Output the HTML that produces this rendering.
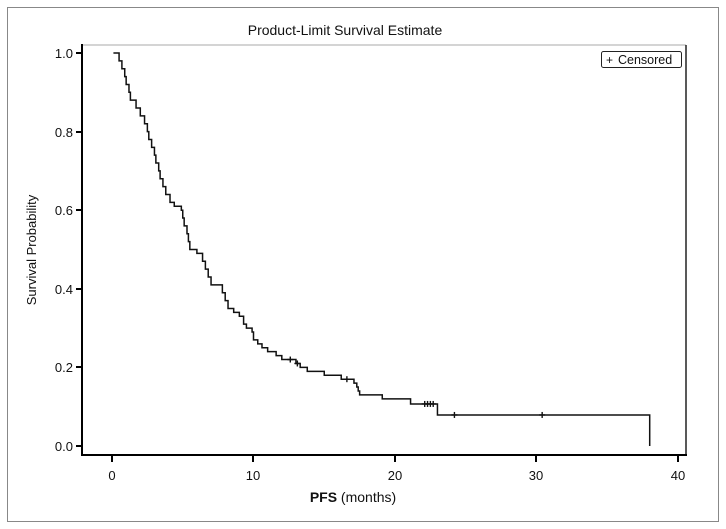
<!DOCTYPE html>
<html><head><meta charset="utf-8"><style>
html,body{margin:0;padding:0;background:#fff;}
svg{display:block;font-family:"Liberation Sans",sans-serif;}
</style></head><body>
<svg width="726" height="529" viewBox="0 0 726 529" xmlns="http://www.w3.org/2000/svg">
<rect x="7.5" y="7.5" width="711" height="514" fill="#fff" stroke="#888" stroke-width="1"/>
<text x="345" y="35" font-size="14" text-anchor="middle" fill="#111">Product-Limit Survival Estimate</text>
<line x1="82" y1="45" x2="686" y2="45" stroke="#aaa" stroke-width="1"/>
<line x1="686" y1="45" x2="686" y2="455" stroke="#222" stroke-width="1.5"/>
<line x1="82" y1="44" x2="82" y2="456" stroke="#000" stroke-width="2"/>
<line x1="81" y1="455" x2="687" y2="455" stroke="#000" stroke-width="2"/>
<g font-size="13" fill="#111" text-anchor="end">
<text x="73" y="58">1.0</text><text x="73" y="137">0.8</text><text x="73" y="215">0.6</text><text x="73" y="294">0.4</text><text x="73" y="372">0.2</text><text x="73" y="451">0.0</text>
</g>
<g stroke="#000" stroke-width="2">
<line x1="76" y1="53" x2="82" y2="53"/><line x1="76" y1="132" x2="82" y2="132"/><line x1="76" y1="210" x2="82" y2="210"/><line x1="76" y1="289" x2="82" y2="289"/><line x1="76" y1="367" x2="82" y2="367"/><line x1="76" y1="446" x2="82" y2="446"/>
<line x1="112" y1="455" x2="112" y2="462"/><line x1="253" y1="455" x2="253" y2="462"/><line x1="395" y1="455" x2="395" y2="462"/><line x1="536" y1="455" x2="536" y2="462"/><line x1="678" y1="455" x2="678" y2="462"/>
</g>
<g font-size="13" fill="#111" text-anchor="middle">
<text x="112" y="480">0</text><text x="253" y="480">10</text><text x="395" y="480">20</text><text x="536" y="480">30</text><text x="678" y="480">40</text>
</g>
<text x="353" y="502" font-size="14" text-anchor="middle" fill="#111"><tspan font-weight="bold">PFS</tspan> (months)</text>
<text transform="translate(36,250) rotate(-90)" font-size="13" text-anchor="middle" fill="#111">Survival Probability</text>
<rect x="601.5" y="51.5" width="80" height="16" rx="2" fill="#fff" stroke="#222"/>
<text x="606" y="64" font-size="12" fill="#111">+</text>
<text x="618" y="64" font-size="12.5" fill="#111">Censored</text>
<path id="curve" fill="none" stroke="#111" stroke-width="1.5"/>
<g id="cens" stroke="#111" stroke-width="1.4"></g>
</svg>
<script>
var X=function(t){return 112+t*14.15}, Y=function(s){return 446-s*393};
var d=[[0.1,1.0],[0.5,.98],[0.7,.96],[0.9,.94],[1.0,.92],[1.2,.90],[1.3,.88],[1.7,.86],[2.0,.84],[2.3,.82],[2.5,.80],[2.6,.78],[2.8,.76],[3.0,.74],[3.1,.72],[3.3,.70],[3.4,.68],[3.6,.66],[3.8,.64],[4.1,.62],[4.4,.61],[4.9,.60],[5.0,.58],[5.1,.56],[5.3,.54],[5.4,.52],[5.5,.50],[6.0,.49],[6.4,.47],[6.6,.45],[6.8,.43],[7.0,.41],[7.8,.39],[8.0,.37],[8.2,.35],[8.6,.34],[9.0,.33],[9.3,.31],[9.5,.30],[9.9,.29],[10.0,.27],[10.3,.26],[10.6,.25],[11.0,.24],[11.6,.23],[12.0,.22],[13.0,.21],[13.3,.20],[13.8,.19],[15.0,.18],[16.2,.17],[17.1,.16],[17.3,.15],[17.4,.14],[17.5,.13],[19.1,.12],[21.1,.107],[23.0,.079],[38.0,.079],[38.0,0.0]];
var p="M"+X(d[0][0])+","+Y(d[0][1]);
for(var i=1;i<d.length;i++){p+=" H"+X(d[i][0])+" V"+Y(d[i][1]);}
document.getElementById("curve").setAttribute("d",p);
var c=[[12.6,.22],[13.1,.21],[16.6,.17],[22.1,.107],[22.3,.107],[22.5,.107],[22.7,.107],[24.2,.079],[30.4,.079]];
var g=document.getElementById("cens"),h="";
c.forEach(function(e){var x=X(e[0]),y=Y(e[1]);h+='<line x1="'+(x-3)+'" y1="'+y+'" x2="'+(x+3)+'" y2="'+y+'"/><line x1="'+x+'" y1="'+(y-3)+'" x2="'+x+'" y2="'+(y+3)+'"/>';});
g.innerHTML=h;
</script>
</body></html>
